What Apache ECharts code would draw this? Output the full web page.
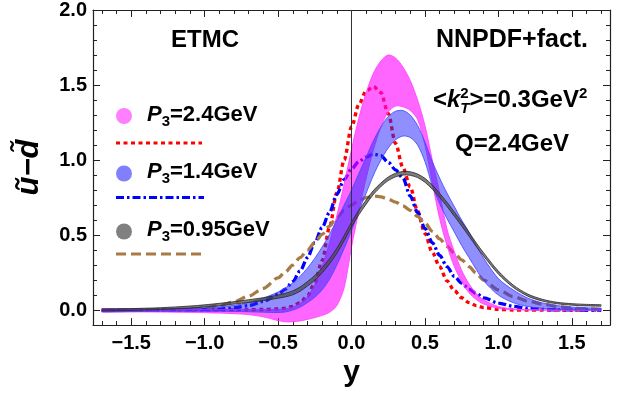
<!DOCTYPE html>
<html><head><meta charset="utf-8">
<script src="https://cdn.jsdelivr.net/npm/echarts@6/dist/echarts.min.js"></script>
<style>html,body{margin:0;padding:0;background:#fff}#c{width:625px;height:393px}</style>
</head><body><div id="c"></div>
<script>
// ---------- data ----------
const X = [-1.7,-1.5,-1.3,-1.1,-1.0,-0.9,-0.8,-0.7,-0.6,
  -0.5,-0.45,-0.4,-0.35,-0.3,-0.25,-0.2,-0.15,-0.1,-0.05,
  0.0,0.05,0.1,0.15,0.2,0.25,0.3,0.35,0.4,0.45,
  0.5,0.55,0.6,0.65,0.7,0.75,0.8,0.85,0.9,
  1.0,1.1,1.2,1.3,1.4,1.5,1.6,1.7];

// NNPDF + factorization curves
const nnpdf24 = [0,0,0,0,0,0,0.001,0.002,0.004,
  0.008,0.012,0.025,0.05,0.095,0.18,0.33,0.55,0.78,1.0,
  1.22,1.37,1.46,1.49,1.45,1.31,1.11,0.95,0.82,0.66,
  0.51,0.385,0.29,0.195,0.13,0.082,0.05,0.03,0.017,
  0.005,0.001,0,0,0,0,0,0];
const nnpdf14 = [0,0,0.001,0.002,0.003,0.006,0.015,0.03,0.058,
  0.105,0.14,0.19,0.26,0.35,0.45,0.55,0.65,0.77,0.87,
  0.94,0.99,1.02,1.04,1.03,0.985,0.935,0.88,0.76,0.65,
  0.545,0.45,0.365,0.29,0.225,0.18,0.14,0.11,0.082,
  0.047,0.025,0.012,0.005,0.002,0.001,0,0];
const nnpdf095 = [0,0,0.001,0.006,0.014,0.03,0.055,0.093,0.145,
  0.215,0.255,0.3,0.35,0.4,0.45,0.505,0.56,0.62,0.665,
  0.70,0.73,0.75,0.76,0.755,0.74,0.72,0.695,0.665,0.625,
  0.58,0.525,0.475,0.425,0.38,0.335,0.29,0.245,0.2,
  0.135,0.09,0.06,0.04,0.025,0.015,0.009,0.005];

// ETMC bands
const etmc24Upper = [0.008,0.006,0.005,0.004,0.004,0.004,0.004,0.004,0.003,
  0.005,0.008,0.02,0.045,0.09,0.17,0.29,0.45,0.63,0.84,
  1.07,1.28,1.45,1.58,1.66,1.70,1.68,1.62,1.53,1.40,
  1.23,1.0,0.78,0.54,0.39,0.265,0.175,0.11,0.068,
  0.024,0.008,0.003,0.001,0,0,0,0];
const etmc24Lower = [-0.012,-0.012,-0.013,-0.015,-0.017,-0.02,-0.024,-0.03,-0.045,
  -0.07,-0.078,-0.078,-0.072,-0.062,-0.05,-0.035,-0.015,0.03,0.15,
  0.42,0.66,0.88,1.07,1.22,1.32,1.36,1.355,1.33,1.27,
  1.1,0.85,0.61,0.43,0.29,0.19,0.115,0.07,0.04,
  0.012,0.003,0,0,0,0,0,0];
const etmc14Upper = [0.006,0.006,0.008,0.012,0.016,0.022,0.032,0.05,0.08,
  0.12,0.148,0.18,0.225,0.28,0.345,0.42,0.505,0.6,0.7,
  0.8,0.91,1.02,1.13,1.22,1.29,1.325,1.33,1.3,1.23,
  1.12,0.99,0.88,0.78,0.69,0.6,0.52,0.43,0.345,
  0.21,0.135,0.08,0.048,0.03,0.02,0.015,0.012];
const etmc14Lower = [-0.012,-0.01,-0.008,-0.007,-0.007,-0.008,-0.009,-0.011,-0.014,
  -0.016,-0.012,0.0,0.02,0.05,0.085,0.135,0.205,0.3,0.41,
  0.53,0.66,0.78,0.9,1.0,1.08,1.135,1.16,1.15,1.1,
  0.99,0.83,0.71,0.61,0.52,0.43,0.35,0.27,0.195,
  0.1,0.05,0.024,0.011,0.005,0.002,0,-0.001];
const etmc095Upper = [0.006,0.01,0.016,0.027,0.035,0.045,0.056,0.069,0.083,
  0.101,0.112,0.128,0.154,0.19,0.231,0.282,0.342,0.412,0.497,
  0.586,0.665,0.734,0.798,0.847,0.887,0.912,0.924,0.922,0.907,
  0.878,0.834,0.779,0.719,0.654,0.589,0.518,0.447,0.381,
  0.26,0.168,0.107,0.072,0.052,0.043,0.038,0.036];
const etmc095Lower = [-0.006,-0.002,0.004,0.013,0.021,0.029,0.04,0.051,0.063,
  0.079,0.088,0.102,0.126,0.16,0.199,0.248,0.308,0.378,0.463,
  0.554,0.635,0.706,0.772,0.823,0.863,0.888,0.9,0.898,0.883,
  0.852,0.806,0.751,0.691,0.626,0.561,0.492,0.423,0.359,
  0.24,0.152,0.093,0.06,0.042,0.033,0.028,0.026];

const zeroLine = [[0,-0.1],[0,2.0]];

// axes / ticks
const xRange = [-1.76, 1.76];
const yRange = [-0.1, 2.0];
const xTicks = [-1.5,-1.0,-0.5,0.0,0.5,1.0,1.5];
const yTicks = [0.0,0.5,1.0,1.5,2.0];
const xMinor = [-1.7,-1.6,-1.4,-1.3,-1.2,-1.1,-0.9,-0.8,-0.7,-0.6,-0.4,-0.3,-0.2,-0.1,0.1,0.2,0.3,0.4,0.6,0.7,0.8,0.9,1.1,1.2,1.3,1.4,1.6,1.7];
const yMinor = [-0.1,0.1,0.2,0.3,0.4,0.6,0.7,0.8,0.9,1.1,1.2,1.3,1.4,1.6,1.7,1.8,1.9];

// ---------- chart ----------
const FONT = "'Liberation Sans', Arial, sans-serif";
const chart = echarts.init(document.getElementById('c'), null, {renderer:'canvas'});

function pairs(v){ return X.map((x,i)=>[x, v[i]]); }
const SM = 0.3;

function lineSeries(name, vals, color, dash, width){
  return {type:'line', name, data:pairs(vals), smooth:SM, smoothMonotone:'x', symbol:'none',
    lineStyle:{color, width, type:dash, cap:'butt'}, z:2, silent:true};
}
function bandSeries(key, upper, lower, fill, edge){
  return {type:'custom', name:key, coordinateSystem:'cartesian2d', data:[[0,0]], z:3, silent:true,
    clip:true,
    renderItem:(params, api)=>{
      const up = X.map((x,i)=>api.coord([x, upper[i]]));
      const lo = X.map((x,i)=>api.coord([x, lower[i]]));
      return {type:'group', children:[
        {type:'polygon', shape:{points: up.concat(lo.slice().reverse()), smooth:SM}, style:{fill, stroke:null}},
        {type:'polyline', shape:{points:up, smooth:SM}, style:{stroke:edge, lineWidth:1, fill:null}},
        {type:'polyline', shape:{points:lo, smooth:SM}, style:{stroke:edge, lineWidth:1, fill:null}}
      ]};
    }};
}

const axisCol = '#222';
function xAx(pos, major, labels){
  return {type:'value', min:xRange[0], max:xRange[1], position:pos,
    axisLine:{show:major, onZero:false, lineStyle:{color:axisCol, width:1.2}},
    axisTick:{show:true, inside:true, length:major?7:4, customValues: major?xTicks:xMinor, lineStyle:{color:axisCol, width:1}},
    axisLabel:{show:labels, customValues:xTicks, margin:8, color:'#000', fontSize:20, fontWeight:'bold', fontFamily:FONT,
      formatter:v=>(v<0?'\u2212':'')+Math.abs(v).toFixed(1)},
    splitLine:{show:false},
    name: labels?'y':'', nameLocation:'middle', nameGap:22,
    nameTextStyle:{fontSize:30, fontWeight:'bold', fontFamily:FONT, color:'#000', verticalAlign:'top'}};
}
function yAx(pos, major, labels){
  return {type:'value', min:yRange[0], max:yRange[1], position:pos,
    axisLine:{show:major, onZero:false, lineStyle:{color:axisCol, width:1.2}},
    axisTick:{show:true, inside:true, length:major?7:4, customValues: major?yTicks:yMinor, lineStyle:{color:axisCol, width:1}},
    axisLabel:{show:labels, customValues:yTicks, margin:6, color:'#000', fontSize:20, fontWeight:'bold', fontFamily:FONT,
      formatter:v=>v.toFixed(1)},
    splitLine:{show:false},
    name: labels?'ũ\u2212d\u0303':'', nameLocation:'middle', nameRotate:90, nameGap:48,
    nameTextStyle:{fontSize:31, fontWeight:'bold', fontStyle:'italic', fontFamily:FONT, color:'#000'}};
}

// text helpers for annotations / legend
const mctx = document.createElement('canvas').getContext('2d');
function fnt(s, it){ return (it?'italic ':'')+'bold '+s+'px '+FONT; }
function tw(t, s, it){ mctx.font = fnt(s,it); return mctx.measureText(t).width; }
function run(x, base, pieces, align){
  let total = 0; pieces.forEach(p=>{ if(!p.stay) total += tw(p.t,p.s,p.i); });
  let cx = align==='center' ? x - total/2 : x;
  const out = [];
  pieces.forEach(p=>{
    out.push({type:'text', x:cx, y:base + (p.dy||0) - 0.35*p.s, z:100,
      style:{text:p.t, font:fnt(p.s,p.i), fill:'#000', align:'left', verticalAlign:'middle'}});
    if(!p.stay) cx += tw(p.t,p.s,p.i);
  });
  return out;
}
function legendRow(cy, color, label, base){
  return [{type:'circle', shape:{cx:124, cy, r:8}, style:{fill:color}, z:100}]
    .concat(run(147, base, [{t:'P',s:22,i:true},{t:'3',s:15,dy:4},{t:label,s:22}]));
}
function sample(y, color, dash, x2){
  return {type:'line', shape:{x1:116, y1:y, x2:x2, y2:y}, style:{stroke:color, lineWidth:3.2, lineDash:dash}, z:100};
}

let graphics = [];
graphics = graphics.concat(run(205, 49, [{t:'ETMC', s:24}], 'center'));
graphics = graphics.concat(run(512, 49, [{t:'NNPDF+fact.', s:25}], 'center'));
graphics = graphics.concat(run(433, 109, [
  {t:'<', s:24}, {t:'k', s:24, i:true}, {t:'2', s:15, dy:-10, stay:true}, {t:'T', s:15, i:true, dy:5},
  {t:'>=0.3GeV', s:24}, {t:'2', s:15, dy:-10}]));
graphics = graphics.concat(run(512, 153, [{t:'Q=2.4GeV', s:24}], 'center'));
graphics = graphics.concat(legendRow(116, '#ff80ff', '=2.4GeV', 123));
graphics.push(sample(143, '#ff0000', [4,3.5], 202));
graphics = graphics.concat(legendRow(173.5, '#8080ff', '=1.4GeV', 180));
graphics.push(sample(197.5, '#0000ff', [8,3,2.5,3], 204));
graphics = graphics.concat(legendRow(231.5, '#808080', '=0.95GeV', 238));
graphics.push(sample(254, '#a87a45', [10,5], 203));

const series = [
  lineSeries('NNPDF P3=2.4', nnpdf24, '#ff0000', [4,3.5], 3.4),
  lineSeries('NNPDF P3=1.4', nnpdf14, '#0000ff', [8,3,2.5,3], 3.3),
  lineSeries('NNPDF P3=0.95', nnpdf095, '#a87a45', [10,5], 3.3),
  bandSeries('e24', etmc24Upper, etmc24Lower, 'rgba(255,0,255,0.6)', 'rgba(255,70,255,0.9)'),
  bandSeries('e14', etmc14Upper, etmc14Lower, 'rgba(40,40,255,0.52)', 'rgba(70,70,255,0.85)'),
  bandSeries('e095', etmc095Upper, etmc095Lower, 'rgba(70,70,70,0.7)', 'rgba(40,40,40,0.8)'),
  {type:'line', name:'zero', data:zeroLine, symbol:'none', lineStyle:{color:'#333', width:1}, z:5, silent:true}
];

chart.setOption({
  animation:false,
  backgroundColor:'#fff',
  grid:{left:93, right:15, top:10, bottom:65, containLabel:false},
  xAxis:[xAx('bottom',true,true), xAx('bottom',false,false), xAx('top',true,false), xAx('top',false,false)],
  yAxis:[yAx('left',true,true), yAx('left',false,false), yAx('right',true,false), yAx('right',false,false)],
  series,
  graphic: graphics
});
</script></body></html>
